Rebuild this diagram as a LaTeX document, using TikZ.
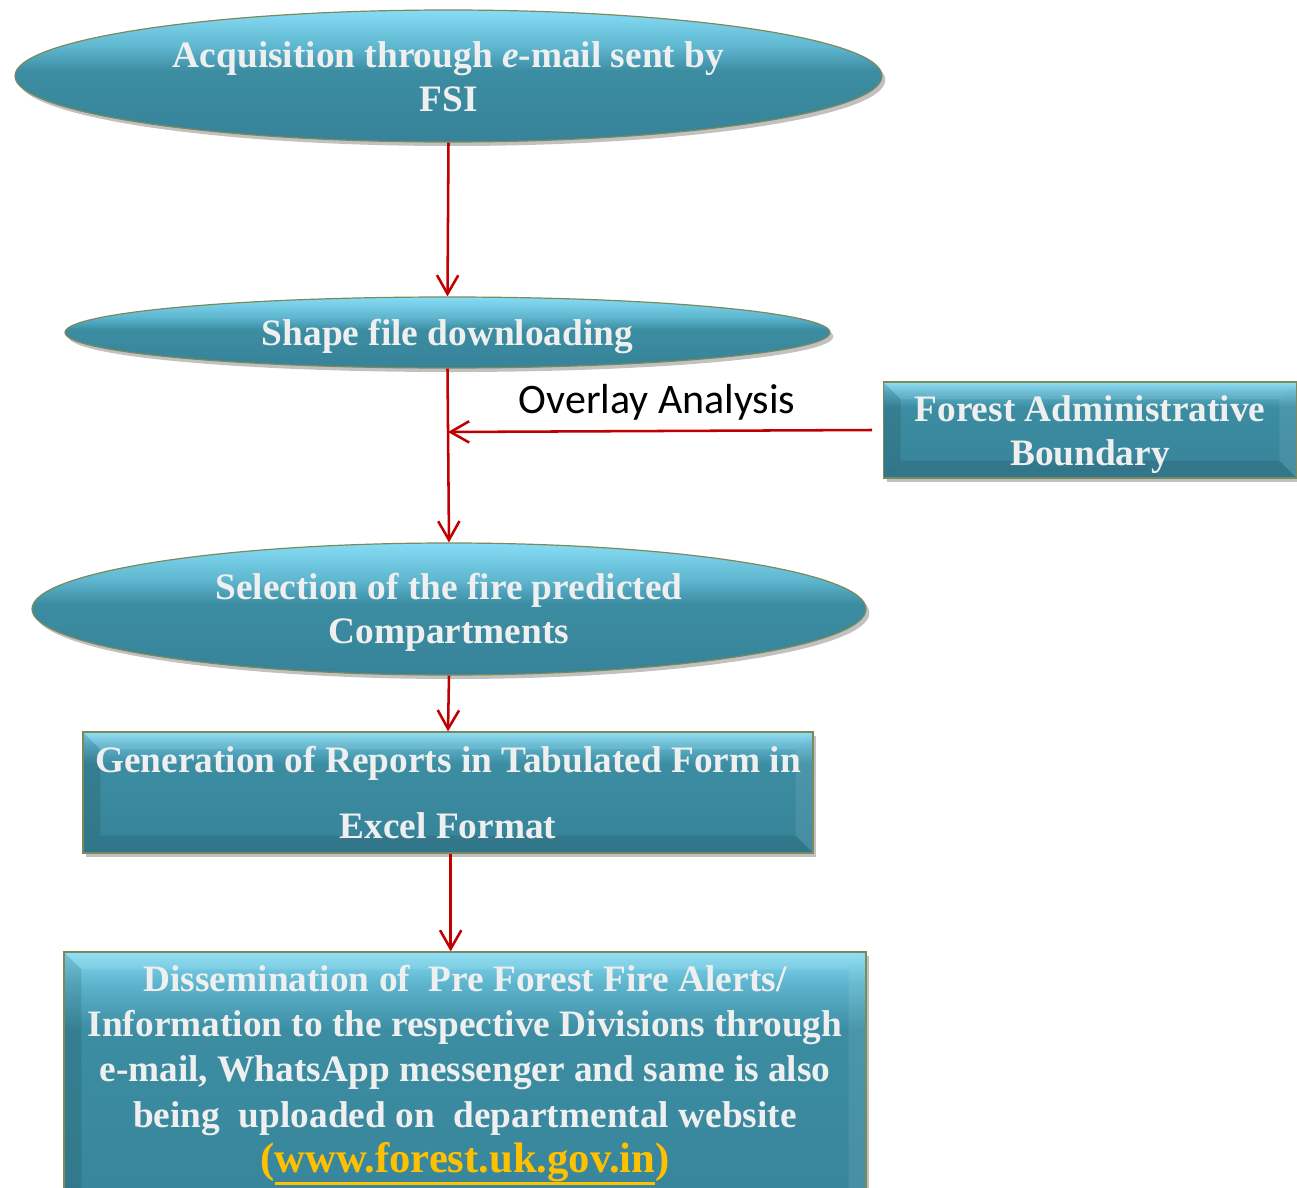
\documentclass[tikz,border=0pt]{standalone}
\usepackage{fontspec}
\setmainfont{Liberation Serif}
\newfontfamily\calibfont{Carlito}
\usetikzlibrary{shapes.geometric,arrows.meta,shadows}
\definecolor{tealT}{HTML}{86DCF4}
\definecolor{tealL}{HTML}{5EB6CF}
\definecolor{tealM}{HTML}{3C8DA2}
\definecolor{tealD}{HTML}{378399}
\definecolor{edgeC}{HTML}{7B8A5C}
\definecolor{txtC}{HTML}{EFEFEF}
\definecolor{arrC}{HTML}{C00000}
\definecolor{linkC}{HTML}{FFC000}
\pgfdeclareverticalshading{ellsh}{100bp}{color(0bp)=(tealD); color(25bp)=(tealD); color(52bp)=(tealM); color(61bp)=(tealL); color(75bp)=(tealT); color(100bp)=(tealT)}
\pgfdeclareverticalshading{boxsh}{100bp}{color(0bp)=(tealD); color(25bp)=(tealD); color(62bp)=(tealM); color(70bp)=(tealL); color(75bp)=(tealT); color(100bp)=(tealT)}
\newcommand\ulinkline[1]{\setbox0\hbox{#1}\rlap{\rule[-\dimexpr\dp0+2.5pt\relax]{\wd0}{2.3pt}}\box0}
\tikzset{
  mainfont/.style={font=\bfseries\fontsize{28}{33}\selectfont, text=txtC},
  shadowed/.style={drop shadow={shadow xshift=2.5pt, shadow yshift=-3pt, opacity=0.35, fill=black!70}},
  ell/.style={ellipse, draw=edgeC, line width=0.9pt, shading=ellsh, inner sep=0pt, align=center, mainfont, shadowed},
  bevelbox/.style={rectangle, draw=edgeC, line width=0.9pt, shading=boxsh, inner sep=0pt, align=center, mainfont, shadowed,
    path picture={
      \fill[black,opacity=0.10] (path picture bounding box.south west) -- (path picture bounding box.north west)
        -- ([shift={(13pt,-13pt)}]path picture bounding box.north west) -- ([shift={(13pt,13pt)}]path picture bounding box.south west) -- cycle;
      \fill[white,opacity=0.10] (path picture bounding box.north west) -- (path picture bounding box.north east)
        -- ([shift={(-13pt,-13pt)}]path picture bounding box.north east) -- ([shift={(13pt,-13pt)}]path picture bounding box.north west) -- cycle;
      \fill[white,opacity=0.08] (path picture bounding box.north east) -- (path picture bounding box.south east)
        -- ([shift={(-13pt,13pt)}]path picture bounding box.south east) -- ([shift={(-13pt,-13pt)}]path picture bounding box.north east) -- cycle;
      \fill[black,opacity=0.10] (path picture bounding box.south west) -- (path picture bounding box.south east)
        -- ([shift={(-13pt,13pt)}]path picture bounding box.south east) -- ([shift={(13pt,13pt)}]path picture bounding box.south west) -- cycle;
    }},
  arr/.style={draw=arrC, line width=1.9pt, -{Straight Barb[length=14pt,width=16pt]}},
}
\begin{document}
\begin{tikzpicture}[x=0.75pt,y=-0.75pt]
\useasboundingbox (0,0) rectangle (1297,1188);
\clip (0,0) rectangle (1297,1188);

\node[ell, minimum width=650.25pt, minimum height=99pt] (e1) at (448.5,76)
  {\rule{0pt}{21pt}Acquisition through \textit{e}-mail sent by\\FSI};
\node[ell, minimum width=573.75pt, minimum height=53.25pt] (e2) at (447.5,332.5)
  {\rule{0pt}{25pt}Shape file downloading};
\node[ell, minimum width=625.5pt, minimum height=99pt] (e3) at (449,609)
  {\rule{0pt}{24pt}Selection of the fire predicted\\Compartments};
\node[bevelbox, minimum width=310pt, minimum height=72pt] (fab) at (1090,430)
  {\rule{0pt}{27pt}Forest Administrative\\Boundary};
\node[bevelbox, minimum width=547.5pt, minimum height=90.75pt, font=\bfseries\fontsize{28}{50}\selectfont] (gen) at (448,792.5)
  {Generation of Reports in Tabulated Form in\\Excel Format};
\node[bevelbox, minimum width=601.5pt, minimum height=225pt] (dis) at (465,1102) {};
\node[align=center, inner sep=0pt, mainfont, font=\bfseries\fontsize{28}{34}\selectfont] (dist) at (465,1075)
  {Dissemination of\ \ Pre Forest Fire Alerts/\\
   Information to the respective Divisions through\\
   e-mail, WhatsApp messenger and same is also\\
   being\ \ uploaded on\ \ departmental website\\
   {\fontsize{32}{36}\selectfont\color{linkC}(\ulinkline{www.forest.uk.gov.in})}};

\node[inner sep=0pt, font=\calibfont\fontsize{31.5}{36}\selectfont, text=black] (ovl) at (657,402) {Overlay Analysis};
\coordinate (ov) at (448,432);

\draw[arr] (e1.south) -- (e2.north);
\draw[arr] (e2.south) -- (e3.north);
\draw[arr] ([xshift=-8pt]fab.west) -- (ov);
\draw[arr] (e3.south) -- (gen.north);
\draw[arr] ([xshift=2pt]gen.south) -- ([xshift=2pt]gen.south |- dis.north);
\end{tikzpicture}
\end{document}
